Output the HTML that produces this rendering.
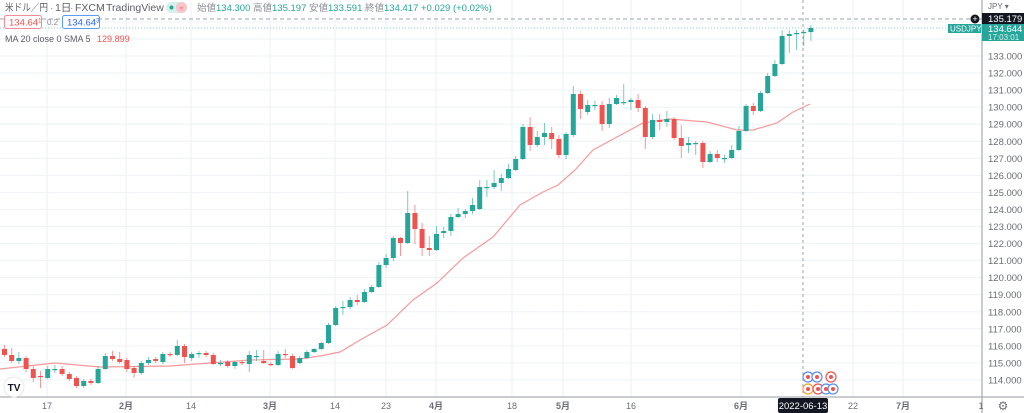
<!DOCTYPE html>
<html><head><meta charset="utf-8"><style>
html,body{margin:0;padding:0;background:#fff;width:1024px;height:413px;overflow:hidden}
svg{display:block;font-family:"Liberation Sans","Noto Sans CJK JP",sans-serif}
</style></head><body>
<svg id="c" width="1024" height="413" xmlns="http://www.w3.org/2000/svg"></svg>
<script>
const s=document.getElementById('c');let h='';
const Y=p=>56+(133-p)*17.05;
for(let p=114;p<=135;p++){h+=`<line x1="0" x2="982" y1="${Y(p).toFixed(1)}" y2="${Y(p).toFixed(1)}" stroke="#eef3f6" stroke-width="1"/>`;}
const xl=[[47,'17'],[126,'2月'],[191,'14'],[270,'3月'],[335,'14'],[386,'23'],[436,'4月'],[512,'18'],[563,'5月'],[631,'16'],[741,'6月'],[853,'22'],[903,'7月'],[981,'1']];
xl.forEach(a=>{if(a[0]<980)h+=`<line x1="${a[0]}" x2="${a[0]}" y1="0" y2="397" stroke="#eaf1f5"/>`;});
h+=`<line x1="0" x2="982" y1="19" y2="19" stroke="#9aa4b0" stroke-dasharray="4,3"/>`;
h+=`<line x1="0" x2="982" y1="28" y2="28" stroke="#7fd0c4" stroke-dasharray="1,2"/>`;
h+=`<line x1="803" x2="803" y1="0" y2="397" stroke="#9aa4b0" stroke-dasharray="3,3"/>`;
const ma=[[0,369],[55,363],[100,367],[170,366],[250,360],[300,359],[320,356],[340,352],[360,340],[387,325],[413,300],[437,283],[463,258],[493,237],[520,205],[543,192],[558,185],[575,170],[593,150],[617,137],[643,123],[670,119],[707,122],[737,130],[753,130],[777,123],[793,112],[810,104]];
h+=`<polyline fill="none" stroke="#f59a9a" stroke-width="1.2" points="${ma.map(p=>p.join(',')).join(' ')}"/>`;
const C=[[349,355,345,357],[355,361,348,363],[361,358,352,364],[358,369,356,372],[369,378,366,382],[376,377,371,388],[378,369,366,379],[369,369,365,373],[369,374,366,376],[374,379,372,381],[378,386,376,388],[386,381,379,388],[381,383,379,385],[383,369,366,384],[369,356,353,370],[356,359,351,361],[359,362,352,364],[360,369,358,372],[368,373,366,378],[373,363,361,375],[363,360,357,365],[359,361,357,363],[362,354,352,364],[354,355,352,357],[355,346,340,356],[346,357,344,363],[358,354,352,361],[354,353,351,358],[353,355,351,357],[355,364,353,365],[363,363,360,366],[362,366,360,368],[366,362,361,369],[362,363,361,365],[364,355,351,372],[356,356,350,361],[361,363,350,364],[364,365,362,366],[365,354,351,366],[354,355,349,358],[356,368,354,369],[363,358,356,364],[358,352,350,359],[352,349,348,353],[349,343,342,350],[343,325,323,344],[325,308,306,326],
[308,307,301,315],[307,300,297,309],[300,302,295,305],[302,292,289,303],[292,287,285,293],[287,265,262,288],[265,258,254,268],[258,238,236,261],[238,243,237,256],[243,213,191,244],[213,229,205,244],[229,248,223,256],[248,250,236,256],[250,234,226,251],[233,231,227,238],[231,217,214,236],[217,214,208,218],[214,211,209,218],[211,205,198,214],[209,187,180,210],[187,187,180,197],[187,183,170,189],[183,178,174,191],[178,169,164,179],[170,159,156,171],[159,127,124,160],[127,145,117,151],[145,137,131,147],[137,133,123,145],[133,139,127,149],[139,155,135,158],[155,134,132,159],[135,94,86,137],
[94,109,91,119],[112,105,100,115],[105,105,101,110],[105,124,101,131],[124,104,98,128],[104,98,95,105],[102,102,84,105],[102,100,98,110],[100,108,94,112],[108,137,106,149],[137,120,114,139],[120,122,114,130],[122,119,111,127],[119,138,117,140],[138,146,125,158],[145,143,137,153],[143,143,141,155],[143,162,141,168],[162,154,151,163],[154,158,150,162],[158,158,155,163],[158,150,145,159],[150,131,126,151],[131,106,104,132],[106,111,103,115],[111,93,91,112],[93,76,73,94],[76,64,60,77],[64,36,30,65],[36,34,30,53],[34,33,30,50],[33,32,30,46],[32,28,25,41]];
C.forEach((c,i)=>{const x=4.5+i*7.2;const up=c[1]<=c[0];const col=up?'#26a69a':'#ef5350';
const t=Math.min(c[0],c[1]),b=Math.max(c[0],c[1]);
h+=`<line x1="${x}" x2="${x}" y1="${c[2]}" y2="${c[3]}" stroke="${col}" stroke-opacity="0.6"/>`;
h+=`<rect x="${x-2.5}" y="${t}" width="5" height="${Math.max(b-t,1.2)}" fill="${col}"/>`;});
[[808,377,'#5b8def'],[817,377,'#5b8def'],[831,377,'#ef5350'],[808,389,'#f7a23b'],[818,389,'#ef5350'],[826,389,'#5b8def'],[833,389,'#5b8def']].forEach(e=>{h+=`<circle cx="${e[0]}" cy="${e[1]}" r="5" fill="#fff" stroke="${e[2]}" stroke-width="1.2"/><circle cx="${e[0]}" cy="${e[1]}" r="2" fill="#ef5350"/>`;});
h+=`<rect x="982" y="0" width="42" height="413" fill="#fff"/><rect x="0" y="397" width="1024" height="16" fill="#fff"/>`;
h+=`<line x1="982" x2="982" y1="0" y2="413" stroke="#9598a1"/><line x1="0" x2="1024" y1="397" y2="397" stroke="#9598a1"/>`;
for(let p=114;p<=133;p++){h+=`<text x="988" y="${(Y(p)+3.5).toFixed(1)}" font-size="9.5" fill="#6a6d78">${p}.000</text>`;}
h+=`<text x="988" y="9" font-size="8" fill="#6a6d78">JPY ▾</text>`;
h+=`<rect x="982" y="13" width="42" height="11" fill="#131722"/><text x="988" y="22" font-size="9.5" fill="#fff">135.179</text>`;
h+=`<circle cx="975" cy="19" r="4.5" fill="#131722"/><text x="975" y="22" font-size="9" fill="#fff" text-anchor="middle">+</text>`;
h+=`<rect x="982" y="24" width="42" height="17" fill="#26a69a"/><text x="988" y="32" font-size="9.5" fill="#fff">134.644</text><text x="988" y="40" font-size="8" fill="#d8f2ee">17:03:01</text>`;
h+=`<rect x="948" y="24" width="33" height="9" fill="#26a69a"/><text x="950" y="31.5" font-size="8" fill="#fff">USDJPY</text>`;
xl.forEach(a=>{h+=`<text x="${a[0]}" y="409" font-size="9" fill="#6a6d78" text-anchor="middle" ${/月/.test(a[1])?'font-weight="bold"':''}>${a[1]}</text>`;});
h+=`<rect x="778" y="398" width="50" height="15" rx="2" fill="#131722"/><text x="803" y="409" font-size="9.5" fill="#fff" text-anchor="middle">2022-06-13</text>`;
h+=`<text x="1003" y="410" font-size="12" fill="#6a6d78" text-anchor="middle">⚙</text>`;
h+=`<text x="5" y="11" font-size="10" fill="#5d606b" textLength="43" lengthAdjust="spacingAndGlyphs">米ドル／円</text><text x="50" y="11" font-size="10.5" fill="#8a8d96">·</text><text x="55" y="11" font-size="10.5" fill="#5d606b">1日</text><text x="70" y="11" font-size="10.5" fill="#8a8d96">·</text><text x="75" y="11" font-size="10.5" fill="#5d606b">FXCM</text><text x="101" y="11" font-size="10.5" fill="#8a8d96">·</text><text x="106" y="11" font-size="10.5" fill="#5d606b">TradingView</text>`;
h+=`<rect x="166" y="2" width="21" height="11" rx="5.5" fill="#d6f0ec"/><circle cx="171.5" cy="7.5" r="2" fill="#26a69a"/><rect x="176" y="2" width="11" height="11" rx="5" fill="#f7c6cb"/><text x="181.5" y="10.5" font-size="7" fill="#ef5350" text-anchor="middle">≈</text>`;
h+=`<text x="197" y="11" font-size="9.5" fill="#26a69a"><tspan fill="#8a8d96">始値</tspan>134.300 <tspan fill="#8a8d96">高値</tspan>135.197 <tspan fill="#8a8d96">安値</tspan>133.591 <tspan fill="#8a8d96">終値</tspan>134.417 +0.029 (+0.02%)</text>`;
h+=`<rect x="4.5" y="15.5" width="37" height="13" rx="2" fill="#fff" stroke="#f28c95"/><text x="9" y="25.5" font-size="9.5" fill="#ef5350">134.64<tspan font-size="6" dy="-3">1</tspan></text>`;
h+=`<text x="47" y="25" font-size="8" fill="#8a8d96">0.2</text>`;
h+=`<rect x="62.5" y="15.5" width="37" height="13" rx="2" fill="#fff" stroke="#5b9cf6"/><text x="67" y="25.5" font-size="9.5" fill="#2962ff">134.64<tspan font-size="6" dy="-3">3</tspan></text>`;
h+=`<text x="5" y="42" font-size="9" fill="#5d606b">MA 20 close 0 SMA 5 <tspan fill="#ef5350" dx="4">129.899</tspan></text>`;
h+=`<circle cx="14" cy="387" r="10" fill="#fff" stroke="#e8e8e8"/><text x="14" y="391" font-size="10" font-weight="bold" fill="#131722" text-anchor="middle">TV</text>`;
s.innerHTML=h;
</script>
</body></html>
